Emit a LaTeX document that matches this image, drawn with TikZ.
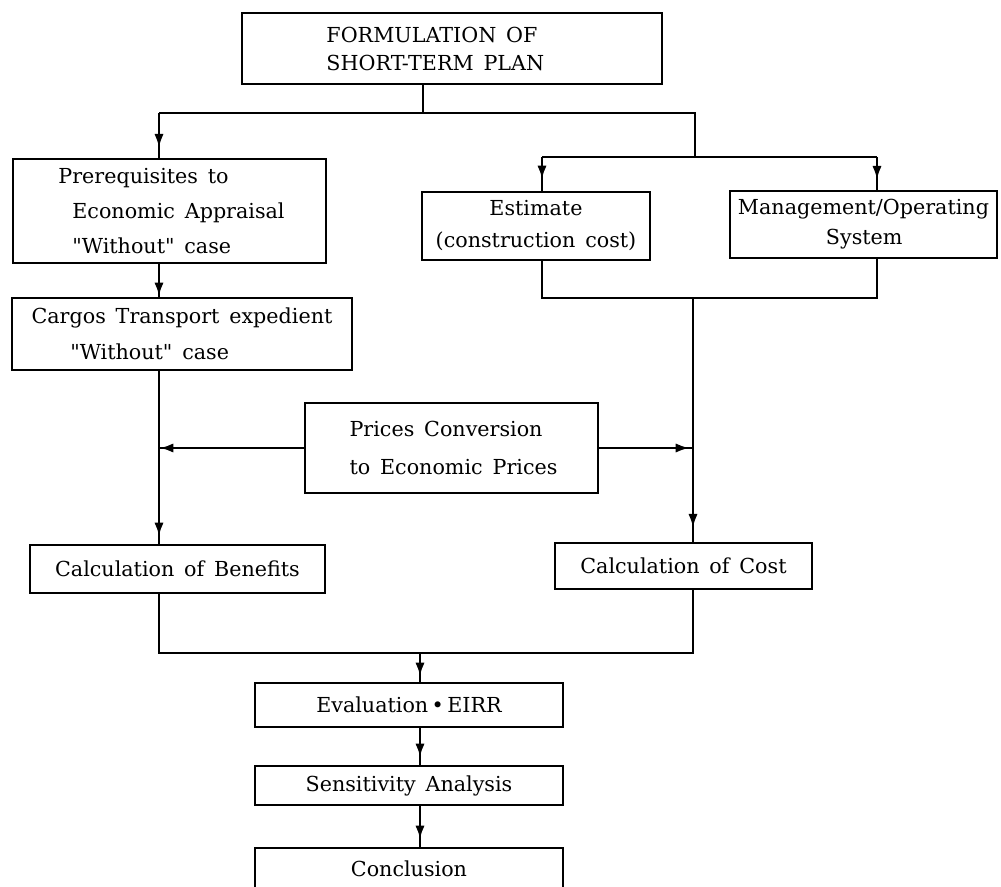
\documentclass[tikz,border=0pt]{standalone}
\usepackage{fontspec}
\setmainfont{DejaVu Serif}[WordSpace=1.5]
\usetikzlibrary{arrows.meta}
\usetikzlibrary{decorations.markings}

\begin{document}
\begin{tikzpicture}[x=0.75pt,y=0.75pt,yscale=-1,xscale=1,
  every node/.style={font=\fontsize{15.5}{25}\selectfont},
  box/.style={draw, line width=1.6pt, inner sep=0pt},
  boxsize/.style 2 args={minimum width=#1*0.75pt, minimum height=#2*0.75pt},
  flow/.style={line width=1.6pt},
  arr/.style={flow, postaction={decorate}, decoration={markings,
    mark=at position -#1 with {\arrow{Latex[length=10pt,width=7pt]}}}},
  arr/.default=6pt]
\useasboundingbox (0,0) rectangle (1001,887);
\clip (0,0) rectangle (1001,887);

%Shape: Rectangle [id:plan]
\node [box, boxsize={420}{71}, align=left, font=\fontsize{15.5}{21}\selectfont] (plan) at (452,48.5) {FORMULATION OF\hspace*{25pt}\\SHORT-TERM PLAN\hspace*{25pt}};
%Shape: Rectangle [id:prereq]
\node [box, boxsize={313}{104}, align=left, font=\fontsize{15.5}{26.25}\selectfont] (prereq) at (169.5,211) {\hspace*{3pt}Prerequisites to\\\hspace*{13.5pt}Economic Appraisal\\\hspace*{13.5pt}\textquotedbl Without\textquotedbl\ case};
%Shape: Rectangle [id:cargo]
\node [box, boxsize={340}{72}, align=left, font=\fontsize{15.5}{27}\selectfont] (cargo) at (182,334) {Cargos Transport expedient\\\hspace*{29pt}\textquotedbl Without\textquotedbl\ case};
%Shape: Rectangle [id:est]
\node [box, boxsize={228}{68}, align=center, font=\fontsize{15.5}{24}\selectfont] (est) at (536,226) {Estimate\\(construction cost)};
%Shape: Rectangle [id:mgmt]
\node [box, boxsize={267}{67}, align=left, font=\fontsize{15.5}{22.5}\selectfont] (mgmt) at (863.5,224.5) {Management/Operating\\\hspace*{66pt}System};
%Shape: Rectangle [id:prices]
\node [box, boxsize={293}{90}, align=left, font=\fontsize{15.5}{28.5}\selectfont] (prices) at (451.5,448) {\hspace*{3pt}Prices Conversion\\\hspace*{3pt}to Economic Prices};
%Shape: Rectangle [id:benefits]
\node [box, boxsize={295}{48}] (benefits) at (177.5,569) {Calculation of Benefits};
%Shape: Rectangle [id:cost]
\node [box, boxsize={257}{46}] (cost) at (683.5,566) {Calculation of Cost};
%Shape: Rectangle [id:eval]
\node [box, boxsize={308}{44}] (eval) at (409,705) {Evaluation\,\textbullet\,EIRR};
%Shape: Rectangle [id:sens]
\node [box, boxsize={308}{39}] (sens) at (409,785.5) {Sensitivity Analysis};
%Shape: Rectangle [id:concl]
\node [box, boxsize={308}{42}] (concl) at (409,869) {Conclusion};

% junctions
\coordinate (s1) at (423,113);
\coordinate (s2) at (159,113);
\coordinate (s3) at (695,113);
\coordinate (s4) at (695,157);
\coordinate (s5) at (542,157);
\coordinate (s6) at (877,157);
\coordinate (t1) at (542,298);
\coordinate (t2) at (877,298);
\coordinate (t3) at (693,298);
\coordinate (u1) at (159,653);
\coordinate (u2) at (693,653);
\coordinate (u3) at (420,653);

%Straight Lines
\draw [flow] (s1 |- plan.south) -- (s1);
\draw [flow] (s2) -- (s3) -- (s4);
\draw [arr=8pt] (s2) -- (s2 |- prereq.north);
\draw [arr=0.8pt] (s2 |- prereq.south) -- (s2 |- cargo.north);
\draw [arr] (s2 |- cargo.south) -- (s2 |- benefits.north);
\draw [flow] (s5) -- (s6);
\draw [arr=9pt] (s5) -- (s5 |- est.north);
\draw [arr=8pt] (s6) -- (s6 |- mgmt.north);
\draw [flow] (t1 |- est.south) -- (t1) -- (t2) -- (t2 |- mgmt.south);
\draw [arr=11pt] (t3) -- (t3 |- cost.north);
\draw [arr=0.8pt] (prices.west) -- (prices.west -| u1);
\draw [arr=3pt] (prices.east) -- (prices.east -| t3);
\draw [flow] (u1 |- benefits.south) -- (u1) -- (u2) -- (u2 |- cost.south);
\draw [arr=4.5pt] (u3) -- (u3 |- eval.north);
\draw [arr] (u3 |- eval.south) -- (u3 |- sens.north);
\draw [arr] (u3 |- sens.south) -- (u3 |- concl.north);

\end{tikzpicture}
\end{document}
